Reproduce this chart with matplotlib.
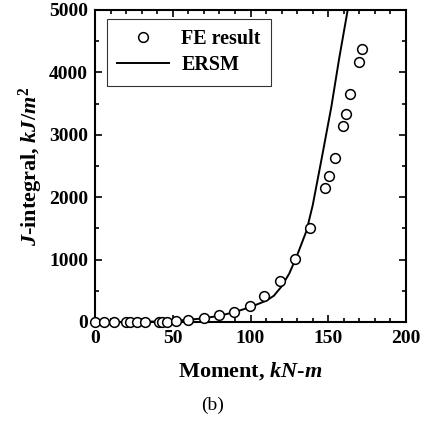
import numpy as np
import matplotlib
matplotlib.use('Agg')
import matplotlib.pyplot as plt
from matplotlib.ticker import MultipleLocator

plt.rcParams['font.family'] = 'Liberation Serif'
plt.rcParams['font.weight'] = 'bold'
plt.rcParams['mathtext.fontset'] = 'custom'
plt.rcParams['mathtext.rm'] = 'Liberation Serif:bold'
plt.rcParams['mathtext.bf'] = 'Liberation Serif:bold'
plt.rcParams['mathtext.it'] = 'Liberation Serif:italic:bold'

# FE result
fe_moment = [0, 6, 12, 20, 22.5, 27, 32, 41, 43, 46, 52, 60, 70, 79.5, 89.5,
             99.5, 109, 119, 128.3, 138.3, 147.9, 150.6, 154.5, 159.8, 161.5,
             164.3, 169.8, 171.5]
fe_J = [0, 0, 0, 0, 0, 0, 0, 0, 0, 5, 20, 40, 60, 110, 165,
        255, 415, 660, 1015, 1500, 2150, 2335, 2635, 3135, 3330,
        3655, 4160, 4380]

# courbe ERSM
ersm_moment = [0, 20, 40, 50, 60, 70, 80, 90, 100, 110, 115, 120, 125, 130,
               136, 140, 146, 152, 157, 162.5]
ersm_J = [0, 1, 8, 18, 35, 60, 100, 160, 240, 340, 420, 570, 780, 1070,
          1460, 1870, 2650, 3450, 4220, 5000]

fig = plt.figure(figsize=(4.28, 4.22), dpi=100)
ax = fig.add_axes([95/428, 100/422, 311/428, 312/422])

ax.plot(fe_moment, fe_J, 'o', mfc='white', mec='black', ms=7, mew=1.1,
        clip_on=False, zorder=3, label='FE result')
ax.plot(ersm_moment, ersm_J, '-', color='black', lw=1.4, label='ERSM')

ax.set_xlim(0, 200)
ax.set_ylim(0, 5000)
ax.xaxis.set_major_locator(MultipleLocator(50))
ax.xaxis.set_minor_locator(MultipleLocator(10))
ax.yaxis.set_major_locator(MultipleLocator(1000))
ax.yaxis.set_minor_locator(MultipleLocator(500))
ax.tick_params(which='both', direction='in', top=True, right=True, width=1.2)
ax.tick_params(which='major', length=5, labelsize=14)
ax.tick_params(axis='x', which='major', pad=6)
ax.tick_params(axis='y', which='major', pad=5)
ax.tick_params(which='minor', length=3)
for s in ax.spines.values():
    s.set_linewidth(1.5)

ax.set_xlabel(r'Moment, $kN$-$m$', fontsize=16, fontweight='bold', labelpad=9)
ax.set_ylabel(r'$J$-integral, $kJ/m^2$', fontsize=16, fontweight='bold',
              labelpad=3)

leg = ax.legend(loc='upper left', bbox_to_anchor=(0.038, 0.97),
                borderaxespad=0, frameon=True, fancybox=False,
                edgecolor='black', handlelength=2.6, borderpad=0.5,
                labelspacing=0.3, handletextpad=0.6,
                prop={'weight': 'bold', 'size': 14.5})
leg.get_frame().set_linewidth(0.8)

fig.text(213/428, 1 - 405/422, '(b)', ha='center', va='center',
         fontsize=14, fontweight='normal')

plt.savefig('out.png', dpi=100)
